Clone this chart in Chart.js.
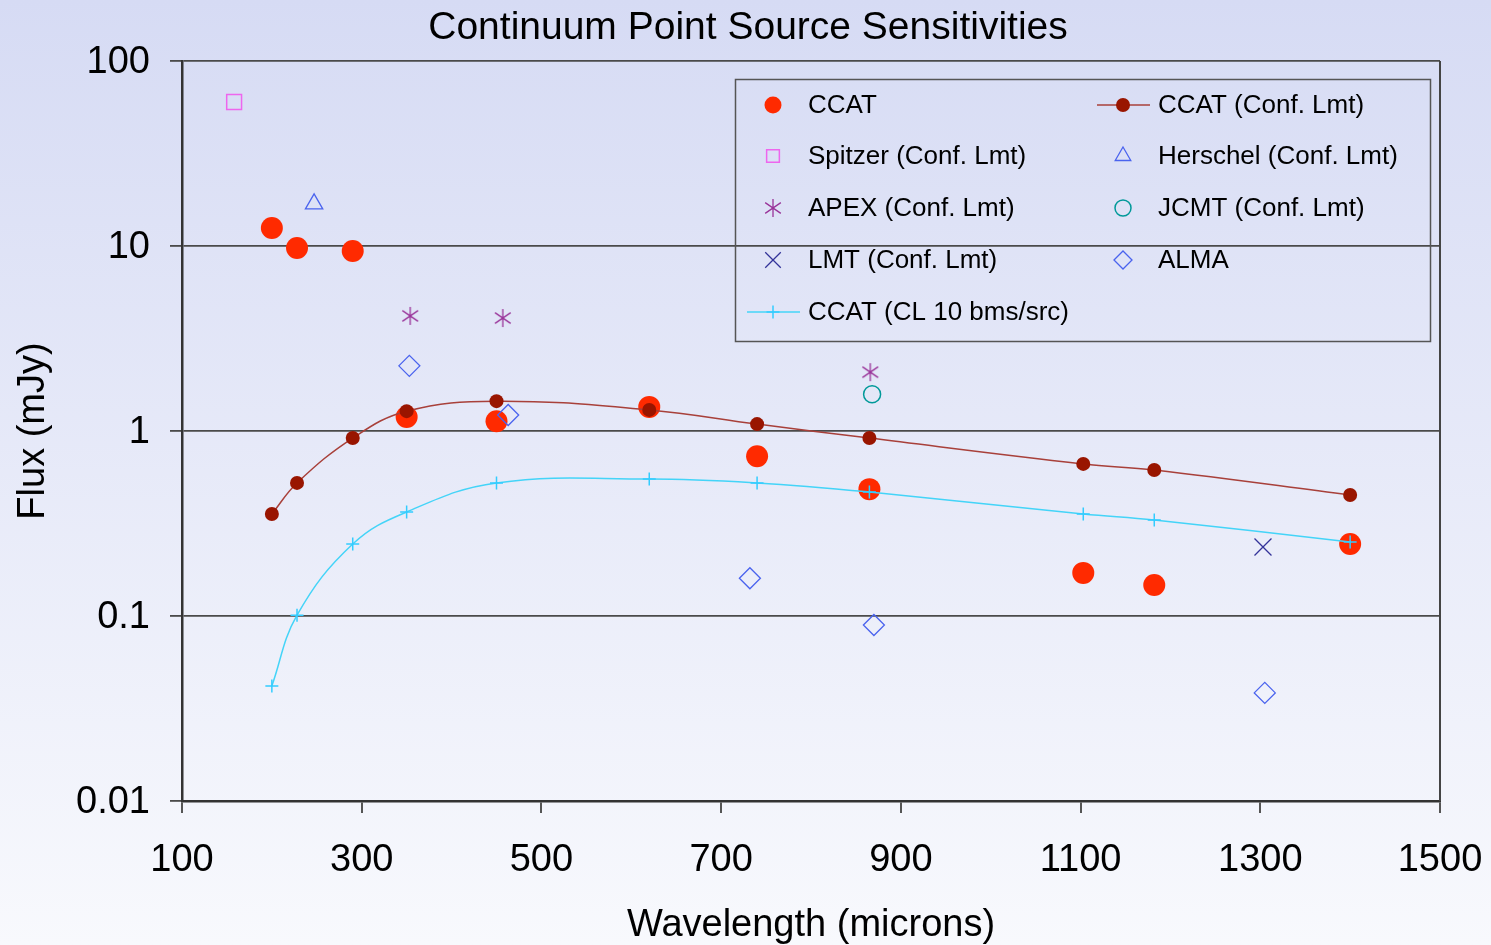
<!DOCTYPE html>
<html>
<head>
<meta charset="utf-8">
<script src="https://cdn.jsdelivr.net/npm/chart.js@4"></script>
<style>
  html, body { margin: 0; padding: 0; background: #fff; }
  #wrap { width: 1491px; height: 945px; }
</style>
</head>
<body>
<div id="wrap"><canvas id="sensChart" width="1491" height="945"></canvas></div>
<script>
// wavelengths (microns) shared by the three CCAT series
const ccatWl = [200, 228, 290, 350, 450, 620, 740, 865, 1103, 1182, 1400];
const ccatFlux = [12.5, 9.75, 9.4, 1.19, 1.13, 1.35, 0.73, 0.485, 0.171, 0.147, 0.245];
const ccatConf = [0.356, 0.524, 0.916, 1.28, 1.45, 1.30, 1.09, 0.916, 0.664, 0.615, 0.451];
const ccatCL10 = [0.0419, 0.101, 0.245, 0.365, 0.524, 0.55, 0.524, 0.468, 0.356, 0.33, 0.251];

const spitzerWl = [158];
const spitzerFlux = [60];
const herschelWl = [247];
const herschelFlux = [16.9];
const apexWl = [354, 457, 866];
const apexFlux = [4.19, 4.08, 2.08];
const jcmtWl = [868];
const jcmtFlux = [1.58];
const lmtWl = [1303];
const lmtFlux = [0.236];
const almaWl = [353, 463, 732, 870, 1305];
const almaFlux = [2.25, 1.22, 0.16, 0.0894, 0.0384];

const yTicks = [0.01, 0.1, 1, 10, 100];

const FONT = '"Liberation Sans", Arial, sans-serif';

function pts(xs, ys) {
    return xs.map((x, i) => ({ x: x, y: ys[i] }));
}

// asterisk marker like the excel one (vertical bar + x)
function asterisk(size, color) {
    const c = document.createElement('canvas');
    c.width = size; c.height = size;
    const g = c.getContext('2d');
    g.strokeStyle = color;
    g.lineWidth = 1.3;
    const m = size / 2, r = size / 2 - 1;
    g.beginPath();
    g.moveTo(m, m - r); g.lineTo(m, m + r);
    g.moveTo(m - r * 0.87, m - r * 0.6); g.lineTo(m + r * 0.87, m + r * 0.6);
    g.moveTo(m - r * 0.87, m + r * 0.6); g.lineTo(m + r * 0.87, m - r * 0.6);
    g.stroke();
    return c;
}

const datasets = [
    {
        label: 'CCAT', data: pts(ccatWl, ccatFlux), showLine: false, order: 4,
        pointStyle: 'circle', pointRadius: 11, backgroundColor: '#ff2a00', borderColor: '#ff2a00', borderWidth: 0,
        legendRadius: 8.5
    },
    {
        label: 'CCAT (Conf. Lmt)', data: pts(ccatWl, ccatConf), showLine: true, order: 1, tension: 0.4,
        pointStyle: 'circle', pointRadius: 7, pointBackgroundColor: '#991500', pointBorderColor: '#991500', pointBorderWidth: 0,
        borderColor: '#a8403a', borderWidth: 1.5, legendRadius: 7
    },
    {
        label: 'Spitzer (Conf. Lmt)', data: pts(spitzerWl, spitzerFlux), showLine: false, order: 3,
        pointStyle: 'rect', pointRadius: 10.5, backgroundColor: 'rgba(0,0,0,0)', borderColor: '#ee66ee', borderWidth: 1.5,
        legendRadius: 9
    },
    {
        label: 'Herschel (Conf. Lmt)', data: pts(herschelWl, herschelFlux), showLine: false, order: 3,
        pointStyle: 'triangle', pointRadius: 10, backgroundColor: 'rgba(0,0,0,0)', borderColor: '#4a63ee', borderWidth: 1.3,
        legendRadius: 9
    },
    {
        label: 'APEX (Conf. Lmt)', data: pts(apexWl, apexFlux), showLine: false, order: 3,
        pointStyle: asterisk(20, '#993399'), pointRadius: 10, backgroundColor: '#993399', borderColor: '#993399',
        legendRadius: 9
    },
    {
        label: 'JCMT (Conf. Lmt)', data: pts(jcmtWl, jcmtFlux), showLine: false, order: 3,
        pointStyle: 'circle', pointRadius: 8.5, backgroundColor: 'rgba(0,0,0,0)', borderColor: '#009999', borderWidth: 1.5,
        legendRadius: 8
    },
    {
        label: 'LMT (Conf. Lmt)', data: pts(lmtWl, lmtFlux), showLine: false, order: 3,
        pointStyle: 'crossRot', pointRadius: 12, backgroundColor: '#333399', borderColor: '#333399', borderWidth: 1.3,
        legendRadius: 11
    },
    {
        label: 'ALMA', data: pts(almaWl, almaFlux), showLine: false, order: 2,
        pointStyle: 'rectRot', pointRadius: 10.5, backgroundColor: 'rgba(0,0,0,0)', borderColor: '#4a63ee', borderWidth: 1.3,
        legendRadius: 9
    },
    {
        label: 'CCAT (CL 10 bms/src)', data: pts(ccatWl, ccatCL10), showLine: true, order: 0, tension: 0.4,
        pointStyle: 'cross', pointRadius: 6.5, pointBackgroundColor: '#33ccff', pointBorderColor: '#33ccff', pointBorderWidth: 1.5,
        borderColor: '#44d4f8', borderWidth: 1.5, legendRadius: 6.5
    }
];

const bgPlugin = {
    id: 'bg',
    beforeDraw(chart) {
        const ctx = chart.ctx;
        const g = ctx.createLinearGradient(0, 0, 0, chart.height);
        g.addColorStop(0, '#d6dbf4');
        g.addColorStop(1, '#f8f9fd');
        ctx.save();
        ctx.fillStyle = g;
        ctx.fillRect(0, 0, chart.width, chart.height);
        ctx.restore();
    }
};

const frameLegendPlugin = {
    id: 'frameLegend',
    afterDraw(chart) {
        const ctx = chart.ctx;
        const a = chart.chartArea;
        ctx.save();
        // title
        ctx.fillStyle = '#000';
        ctx.font = '39px ' + FONT;
        ctx.textAlign = 'center';
        ctx.textBaseline = 'middle';
        ctx.fillText('Continuum Point Source Sensitivities', 748, 28);
        // right border of the plot box
        ctx.strokeStyle = '#444';
        ctx.lineWidth = 2;
        ctx.beginPath();
        ctx.moveTo(a.right, a.top);
        ctx.lineTo(a.right, a.bottom);
        ctx.stroke();

        // legend box
        ctx.strokeStyle = '#555';
        ctx.lineWidth = 1.5;
        ctx.strokeRect(735.5, 79.5, 695, 262);
        const rows = [105, 156, 208, 260, 312];
        const markX = [773, 1123];
        const textX = [808, 1158];
        ctx.font = '26px ' + FONT;
        ctx.textAlign = 'left';
        chart.data.datasets.forEach((ds, i) => {
            const col = i % 2, row = Math.floor(i / 2);
            const y = rows[row];
            const mx = markX[col];
            if (ds.showLine) {
                ctx.strokeStyle = ds.borderColor;
                ctx.lineWidth = ds.borderWidth;
                ctx.beginPath();
                ctx.moveTo(mx - 26, y);
                ctx.lineTo(mx + 27, y);
                ctx.stroke();
            }
            const fill = ds.pointBackgroundColor || ds.backgroundColor;
            const stroke = ds.pointBorderColor || ds.borderColor;
            const bw = ds.pointBorderWidth !== undefined ? ds.pointBorderWidth : (ds.borderWidth || 0);
            ctx.fillStyle = fill;
            ctx.strokeStyle = stroke;
            ctx.lineWidth = bw;
            Chart.helpers.drawPoint(ctx, {
                pointStyle: ds.pointStyle, rotation: 0, radius: ds.legendRadius, borderWidth: bw
            }, mx, y);
            ctx.fillStyle = '#000';
            ctx.fillText(ds.label, textX[col], y + 1);
        });
        ctx.restore();
    }
};

const ctx = document.getElementById('sensChart').getContext('2d');
const sensChart = new Chart(ctx, {
    type: 'scatter',
    data: { datasets: datasets },
    options: {
        responsive: false,
        animation: false,
        layout: { padding: { top: 61, right: 51, left: 0, bottom: 0 } },
        plugins: {
            legend: { display: false },
            title: { display: false },
            tooltip: { enabled: false }
        },
        scales: {
            x: {
                type: 'linear',
                min: 100,
                max: 1500,
                afterFit(scale) {
                    scale.height = 144;
                    scale.paddingLeft = 0;
                    scale.paddingRight = 0;
                },
                ticks: {
                    stepSize: 200,
                    color: '#000',
                    font: { family: FONT, size: 38 },
                    padding: 25,
                    maxRotation: 0,
                    callback: (v) => String(v)
                },
                grid: {
                    drawOnChartArea: false,
                    drawTicks: true,
                    tickLength: 12,
                    color: '#555',
                    lineWidth: 2
                },
                border: { color: '#333', width: 2.5 },
                title: {
                    display: true,
                    text: 'Wavelength (microns)',
                    color: '#000',
                    font: { family: FONT, size: 38 },
                    padding: { top: 0, bottom: -3 }
                }
            },
            y: {
                type: 'logarithmic',
                min: 0.01,
                max: 100,
                afterFit(scale) {
                    scale.width = 182;
                    scale.paddingTop = 0;
                    scale.paddingBottom = 0;
                },
                afterBuildTicks(scale) {
                    scale.ticks = yTicks.map(v => ({ value: v, major: true }));
                },
                ticks: {
                    color: '#000',
                    font: { family: FONT, size: 38 },
                    padding: 20,
                    labelOffset: 2,
                    callback: (v) => String(v)
                },
                grid: {
                    drawOnChartArea: true,
                    drawTicks: true,
                    tickLength: 12,
                    color: '#4a4a4a',
                    lineWidth: 1.8
                },
                border: { color: '#333', width: 2.5 },
                title: {
                    display: true,
                    text: 'Flux (mJy)',
                    color: '#000',
                    font: { family: FONT, size: 38 },
                    padding: { top: 11, bottom: 0 }
                }
            }
        }
    },
    plugins: [bgPlugin, frameLegendPlugin]
});
</script>
</body>
</html>
